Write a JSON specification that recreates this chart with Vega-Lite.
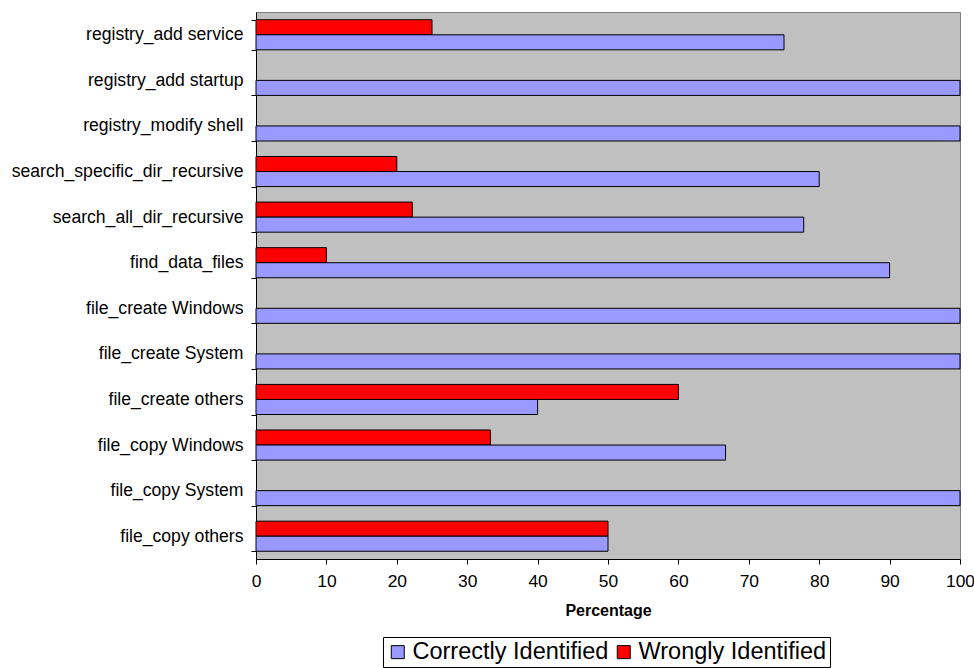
{
  "$schema": "https://vega.github.io/schema/vega-lite/v6.json",
  "width": 704,
  "height": 547,
  "autosize": {"type": "none"},
  "padding": {"left": 256, "top": 12, "right": 14, "bottom": 109},
  "background": "white",
  "config": {
    "font": "Liberation Sans",
    "view": {"fill": "#C0C0C0", "stroke": "#808080", "strokeWidth": 1}
  },
  "data": {
    "values": [
      {"category": "registry_add service", "series": "Wrongly Identified", "value": 25},
      {"category": "registry_add service", "series": "Correctly Identified", "value": 75},
      {"category": "registry_add startup", "series": "Correctly Identified", "value": 100},
      {"category": "registry_modify shell", "series": "Correctly Identified", "value": 100},
      {"category": "search_specific_dir_recursive", "series": "Wrongly Identified", "value": 20},
      {"category": "search_specific_dir_recursive", "series": "Correctly Identified", "value": 80},
      {"category": "search_all_dir_recursive", "series": "Wrongly Identified", "value": 22.2},
      {"category": "search_all_dir_recursive", "series": "Correctly Identified", "value": 77.8},
      {"category": "find_data_files", "series": "Wrongly Identified", "value": 10},
      {"category": "find_data_files", "series": "Correctly Identified", "value": 90},
      {"category": "file_create Windows", "series": "Correctly Identified", "value": 100},
      {"category": "file_create System", "series": "Correctly Identified", "value": 100},
      {"category": "file_create others", "series": "Wrongly Identified", "value": 60},
      {"category": "file_create others", "series": "Correctly Identified", "value": 40},
      {"category": "file_copy Windows", "series": "Wrongly Identified", "value": 33.3},
      {"category": "file_copy Windows", "series": "Correctly Identified", "value": 66.7},
      {"category": "file_copy System", "series": "Correctly Identified", "value": 100},
      {"category": "file_copy others", "series": "Wrongly Identified", "value": 50},
      {"category": "file_copy others", "series": "Correctly Identified", "value": 50}
    ]
  },
  "mark": {"type": "bar", "stroke": "black", "strokeWidth": 1},
  "encoding": {
    "y": {
      "field": "category",
      "type": "nominal",
      "sort": null,
      "scale": {"paddingInner": 0.34, "paddingOuter": 0.17},
      "axis": {
        "title": null,
        "domainColor": "black",
        "domainWidth": 1,
        "tickColor": "black",
        "tickSize": 5,
        "tickBand": "extent",
        "labelFontSize": 17.6,
        "labelColor": "black",
        "labelPadding": 8,
        "labelLimit": 300
      }
    },
    "yOffset": {
      "field": "series",
      "type": "nominal",
      "sort": ["Wrongly Identified", "Correctly Identified"],
      "scale": {"paddingInner": 0, "paddingOuter": 0}
    },
    "x": {
      "field": "value",
      "type": "quantitative",
      "scale": {"domain": [0, 100], "nice": false},
      "axis": {
        "title": "Percentage",
        "titleFontSize": 16,
        "titleFontWeight": "bold",
        "titleColor": "black",
        "titlePadding": 13,
        "values": [0, 10, 20, 30, 40, 50, 60, 70, 80, 90, 100],
        "grid": false,
        "domainColor": "black",
        "tickColor": "black",
        "tickSize": 5,
        "labelFontSize": 17.4,
        "labelColor": "black",
        "labelPadding": 8,
        "labelFlush": false
      }
    },
    "color": {
      "field": "series",
      "type": "nominal",
      "sort": ["Correctly Identified", "Wrongly Identified"],
      "scale": {
        "domain": ["Correctly Identified", "Wrongly Identified"],
        "range": ["#9999FF", "#FF0000"]
      },
      "legend": {
        "title": null,
        "orient": "none",
        "direction": "horizontal",
        "legendX": 127,
        "legendY": 625,
        "symbolType": "square",
        "symbolSize": 169,
        "symbolStrokeColor": "black",
        "symbolStrokeWidth": 1,
        "symbolOpacity": 1,
        "labelFontSize": 23.5,
        "labelColor": "black",
        "labelLimit": 300,
        "labelOffset": 3,
        "columnPadding": 3,
        "padding": 3,
        "strokeColor": "black",
        "fillColor": "white"
      }
    }
  }
}
